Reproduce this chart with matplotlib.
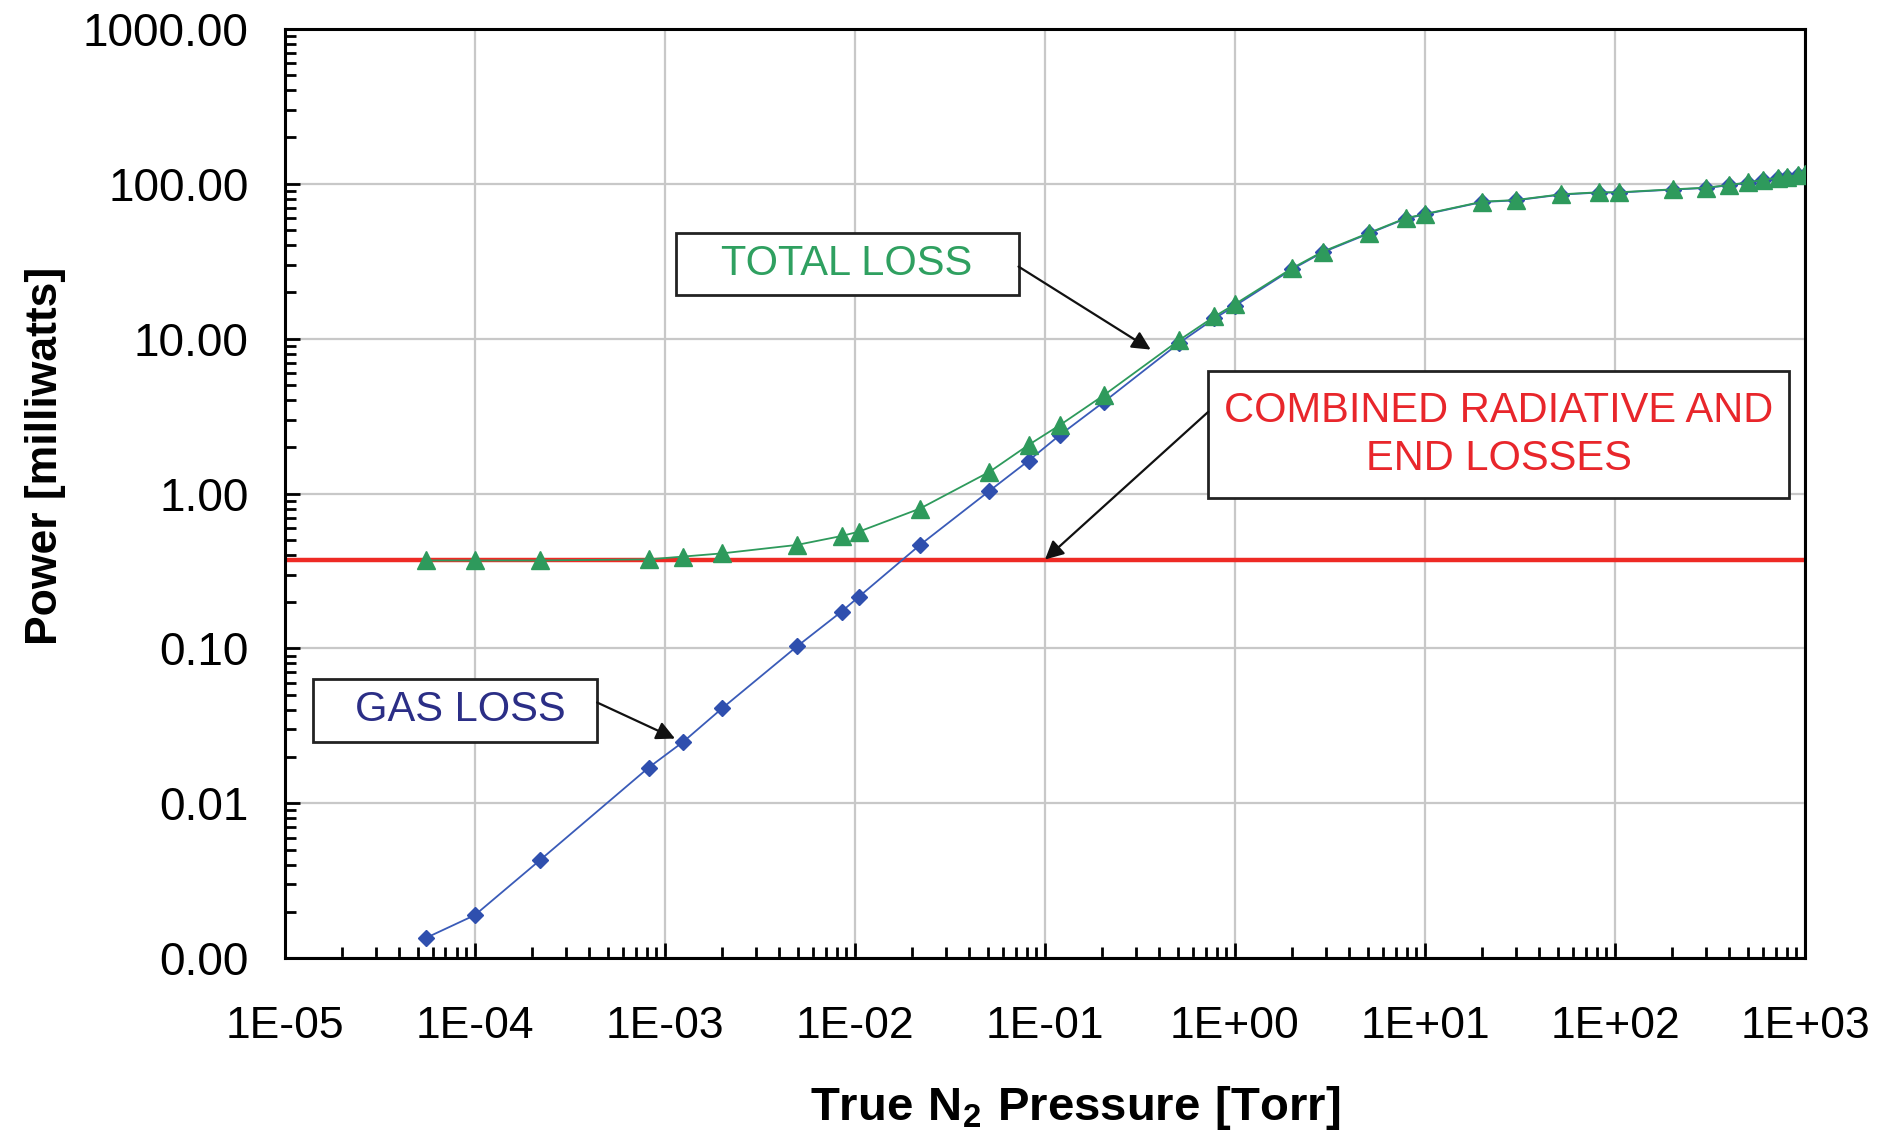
import numpy as np
import matplotlib
matplotlib.use('Agg')
import matplotlib.pyplot as plt
from matplotlib.ticker import LogLocator, FormatStrFormatter, FuncFormatter, NullFormatter
from matplotlib.patches import Rectangle

plt.rcParams['font.family'] = ['Liberation Sans', 'DejaVu Sans']
plt.rcParams['mathtext.fontset'] = 'custom'
plt.rcParams['mathtext.bf'] = 'Liberation Sans:bold'
plt.rcParams['mathtext.rm'] = 'Liberation Sans'

# gas loss (blue diamonds)
gas_p = [5.5e-5, 1.0e-4, 2.2e-4, 8.2e-4, 1.25e-3, 2.0e-3, 4.95e-3, 8.5e-3, 1.05e-2,
         2.2e-2, 5.1e-2, 8.2e-2, 0.12, 0.205, 0.51, 0.78, 1.0, 2.0, 2.9, 5.1, 7.9, 10.0,
         20.0, 30.0, 52.0, 82.0, 105.0, 203.0, 300.0, 400.0, 500.0, 600.0, 720.0,
         800.0, 920.0, 1000.0]
gas_mw = [0.00135, 0.0019, 0.0043, 0.0170, 0.0250, 0.0411, 0.103, 0.173, 0.216,
          0.466, 1.04, 1.63, 2.39, 3.92, 9.4, 13.5, 16.3, 28.1, 36.1, 47.9, 59.5, 63.4,
          76.2, 78.1, 85.1, 87.7, 87.7, 91.7, 93.9, 97.8, 101.6, 105.6, 108.6,
          110.6, 113.6, 114.6]

# total loss (green triangles)
tot_p = gas_p
tot_mw = [0.37, 0.37, 0.37, 0.376, 0.392, 0.411, 0.466, 0.532, 0.568,
          0.80, 1.38, 2.06, 2.77, 4.33, 9.8, 13.9, 16.7, 28.5, 36.5, 48.3, 59.9, 63.8,
          76.6, 78.5, 85.5, 88.1, 88.1, 92.1, 94.3, 98.2, 102.0, 106.0, 109.0,
          111.0, 114.0, 115.0]

# combined radiative and end losses (constant)
rad_p = [1e-5, 1e3]
rad_mw = [0.375, 0.375]

xticks = [1e-5, 1e-4, 1e-3, 1e-2, 1e-1, 1e0, 1e1, 1e2, 1e3]
yticks = [1e-3, 1e-2, 1e-1, 1e0, 1e1, 1e2, 1e3]

fig = plt.figure(figsize=(18.83, 11.35), dpi=100)
ax = fig.add_axes([0.1513, 0.1557, 0.8073, 0.8189])

ax.plot(rad_p, rad_mw, color='#EE2A24', lw=3.2, zorder=2)
ax.plot(gas_p, gas_mw, color='#3A5BB8', lw=1.3, marker='D', ms=8,
        mfc='#2F4FAE', mec='#2F4FAE', zorder=3)
ax.plot(tot_p, tot_mw, color='#2E9A5C', lw=1.3, marker='^', ms=13,
        mfc='#2E9A5C', mec='#2E9A5C', zorder=4)

ax.set_xscale('log')
ax.set_yscale('log')
ax.set_xlim(1e-5, 1e3)
ax.set_ylim(1e-3, 1e3)
ax.set_xticks(xticks)
ax.set_yticks(yticks)
ax.xaxis.set_minor_locator(LogLocator(base=10, subs=np.arange(2, 10), numticks=20))
ax.yaxis.set_minor_locator(LogLocator(base=10, subs=np.arange(2, 10), numticks=20))
ax.xaxis.set_minor_formatter(NullFormatter())
ax.yaxis.set_minor_formatter(NullFormatter())
ax.xaxis.set_major_formatter(FuncFormatter(lambda v, pos: f'{v:.0E}'))
ax.yaxis.set_major_formatter(FormatStrFormatter('%.2f'))

ax.tick_params(which='major', direction='in', length=11, width=2, colors='black')
ax.tick_params(which='minor', direction='in', length=8, width=2)
ax.tick_params(axis='x', which='major', pad=34, labelsize=32)
ax.tick_params(axis='y', which='major', pad=26, labelsize=33)
ax.grid(True, which='major', color='#c8c8c8', lw=1.6)
ax.set_axisbelow(True)
for s in ax.spines.values():
    s.set_linewidth(2.2)
    s.set_color('black')

fig.text(0.0244, 0.598, 'Power [milliwatts]', rotation=90, ha='center', va='center',
         fontsize=32, fontweight='bold')
fig.text(0.571, 0.024, r'$\mathbf{True\ N_{2}\ Pressure\ [Torr]}$', ha='center', va='center',
         fontsize=34)

# annotation boxes
boxes = [
    ((0.2575, 0.7132), 0.2251, 0.0672),
    ((0.6074, 0.4948), 0.3823, 0.1370),
    ((0.0182, 0.2326), 0.1872, 0.0684),
]
for (x0, y0), w, h in boxes:
    ax.add_patch(Rectangle((x0, y0), w, h, transform=ax.transAxes, fill=True,
                           facecolor='white', edgecolor='#222222', lw=2, zorder=6))

ax.text(0.3697, 0.7468, 'TOTAL LOSS', transform=ax.transAxes, ha='center', va='center',
        fontsize=30, color='#2FA060', zorder=7)
ax.text(0.7986, 0.5633, 'COMBINED RADIATIVE AND\nEND LOSSES', transform=ax.transAxes,
        ha='center', va='center', fontsize=30, color='#E8262B', linespacing=1.25, zorder=7)
ax.text(0.1153, 0.2674, 'GAS LOSS', transform=ax.transAxes, ha='center', va='center',
        fontsize=30, color='#2B2E86', zorder=7)

arrow = dict(arrowstyle='-|>', color='#111111', lw=1.6, mutation_scale=28, shrinkA=0, shrinkB=0)
ax.annotate('', xy=(0.36, 8.5), xycoords='data', xytext=(0.4826, 0.7442),
            textcoords='axes fraction', arrowprops=arrow, zorder=8)
ax.annotate('', xy=(0.1, 0.375), xycoords='data', xytext=(0.6074, 0.5879),
            textcoords='axes fraction', arrowprops=arrow, zorder=8)
ax.annotate('', xy=(1.13e-3, 0.0262), xycoords='data', xytext=(0.2054, 0.2752),
            textcoords='axes fraction', arrowprops=arrow, zorder=8)

fig.savefig('out.png', dpi=100)
